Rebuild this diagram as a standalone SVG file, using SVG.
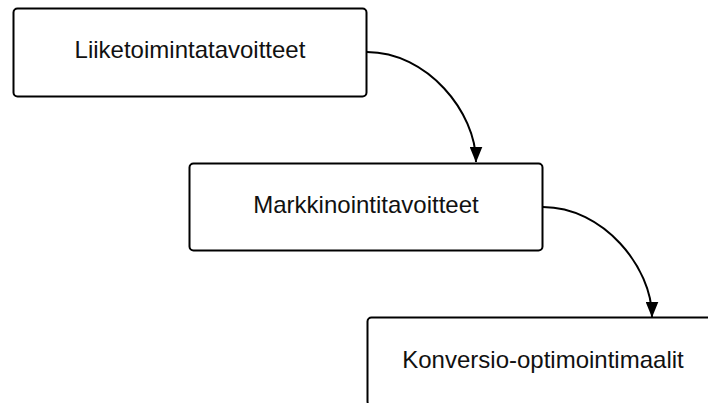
<svg xmlns="http://www.w3.org/2000/svg" width="708" height="403" viewBox="0 0 708 403">
  <style>
    .box { fill: #ffffff; stroke: #000000; stroke-width: 2; }
    .label { font-family: "Liberation Sans", Arial, sans-serif; font-size: 24px; fill: #111111; text-anchor: middle; }
    .link { fill: none; stroke: #000000; stroke-width: 2; marker-end: url(#arrow); }
  </style>
  <defs>
    <!-- filled arrowhead, anchored at its tip -->
    <marker id="arrow" viewBox="0 0 16 13" refX="15.5" refY="6.5" markerWidth="16" markerHeight="13" markerUnits="userSpaceOnUse" orient="auto">
      <path d="M0,0 L16,6.5 L0,13 Z" fill="#000000"/>
    </marker>
  </defs>
  <rect width="708" height="403" fill="#ffffff"/>

  <g id="connectors">
    <path class="link" d="M367,52 C427,52 476,112 476,162"/>
    <path class="link" d="M543,207 C603,207 652,267 652,317"/>
  </g>

  <g id="node-liiketoiminta">
    <rect class="box" x="13.5" y="8.5" width="353" height="88" rx="4"/>
    <text class="label" x="190" y="58">Liiketoimintatavoitteet</text>
  </g>

  <g id="node-markkinointi">
    <rect class="box" x="189.5" y="163.5" width="353" height="87" rx="4"/>
    <text class="label" x="366" y="212.7">Markkinointitavoitteet</text>
  </g>

  <g id="node-konversio">
    <rect class="box" x="367.5" y="317.5" width="353" height="88" rx="4"/>
    <text class="label" x="543" y="367.7">Konversio-optimointimaalit</text>
  </g>
</svg>
